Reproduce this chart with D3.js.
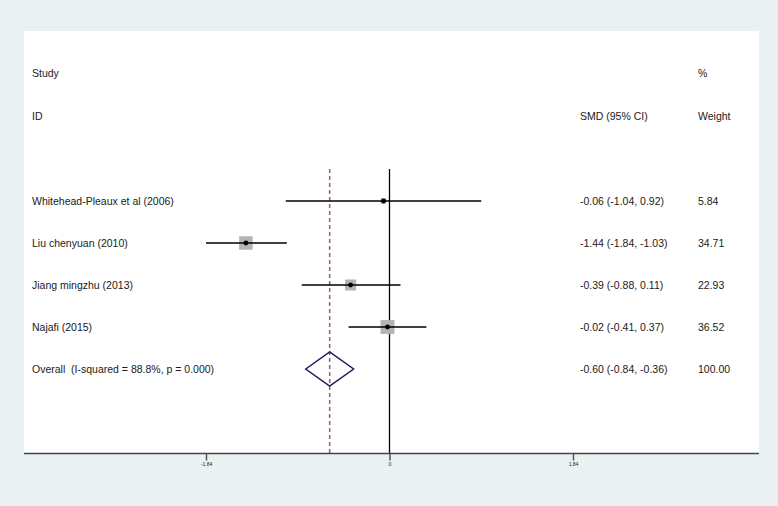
<!DOCTYPE html>
<html><head><meta charset="utf-8">
<script src="https://cdn.jsdelivr.net/npm/d3@7"></script>
<style>html,body{margin:0;padding:0;background:#e9f1f3;}svg{display:block;}text{white-space:pre;}</style>
</head><body>
<svg id="c" width="778" height="506"></svg>
<script>
const studies = ["Whitehead-Pleaux et al (2006)", "Liu chenyuan (2010)", "Jiang mingzhu (2013)", "Najafi (2015)"];
const smd = [-0.06, -1.44, -0.39, -0.02];
const lower = [-1.04, -1.84, -0.88, -0.41];
const upper = [0.92, -1.03, 0.11, 0.37];
const weights = [5.84, 34.71, 22.93, 36.52];
const overallLabel = "Overall  (I-squared = 88.8%, p = 0.000)";
const overall = { est: -0.60, lo: -0.84, hi: -0.36, w: 100.00 };
const tickValues = [-1.84, 0, 1.84];
const tickLabels = ["-1.84", "0", "1.84"];

const svg = d3.select("#c");
const font = "'Liberation Sans', Arial, sans-serif";

// white plot region
svg.append("rect").attr("x", 24).attr("y", 31).attr("width", 735).attr("height", 423).attr("fill", "#ffffff");

const x = d3.scaleLinear().domain([-1.84, 1.84]).range([206, 573]);
const rowNames = studies.concat([overallLabel]);
const y = d3.scalePoint().domain(rowNames).range([201, 369]);

const axisY = 453.5;
const topY = 169;

// zero line
svg.append("line").attr("x1", x(0)).attr("x2", x(0)).attr("y1", topY).attr("y2", axisY)
  .attr("stroke", "#000").attr("stroke-width", 1.3);
// overall dashed line
svg.append("line").attr("x1", x(overall.est)).attr("x2", x(overall.est)).attr("y1", topY).attr("y2", axisY)
  .attr("stroke", "#a0586c").attr("stroke-width", 1.5).attr("stroke-dasharray", "4,3");

// headers
const colStudy = 32, colSMD = 580, colW = 698;
function txt(xp, yp, s) {
  svg.append("text").attr("x", xp).attr("y", yp).attr("font-family", font).attr("font-size", 10.5)
    .attr("fill", "#1a1a1a").text(s);
}
txt(colStudy, 77, "Study");
txt(colStudy, 120, "ID");
txt(colSMD, 120, "SMD (95% CI)");
txt(colW, 77, "%");
txt(colW, 120, "Weight");

const f2 = v => v.toFixed(2);
studies.forEach((s, i) => {
  const yy = y(s);
  txt(colStudy, yy + 4, s);
  txt(colSMD, yy + 4, `${f2(smd[i])} (${f2(lower[i])}, ${f2(upper[i])})`);
  txt(colW, yy + 4, f2(weights[i]));
  const side = 2.3 * Math.sqrt(weights[i]);
  svg.append("rect").attr("x", x(smd[i]) - side / 2).attr("y", yy - side / 2)
    .attr("width", side).attr("height", side).attr("fill", "#b4b4b4");
  svg.append("line").attr("x1", x(lower[i])).attr("x2", x(upper[i])).attr("y1", yy).attr("y2", yy)
    .attr("stroke", "#000").attr("stroke-width", 1.4);
  svg.append("circle").attr("cx", x(smd[i])).attr("cy", yy).attr("r", 2.4).attr("fill", "#000");
});

// overall
const oy = y(overallLabel);
txt(colStudy, oy + 4, overallLabel);
txt(colSMD, oy + 4, `${f2(overall.est)} (${f2(overall.lo)}, ${f2(overall.hi)})`);
txt(colW, oy + 4, f2(overall.w));
const dh = 17;
svg.append("path")
  .attr("d", `M${x(overall.lo)},${oy} L${x(overall.est)},${oy - dh} L${x(overall.hi)},${oy} L${x(overall.est)},${oy + dh} Z`)
  .attr("fill", "none").attr("stroke", "#1c1c5e").attr("stroke-width", 1.5);

// axis
const axis = d3.axisBottom(x).tickValues(tickValues).tickFormat((d, i) => tickLabels[i]).tickSize(7).tickSizeOuter(0);
const g = svg.append("g").attr("transform", `translate(0,${axisY})`).call(axis);
g.select(".domain").remove();
g.selectAll(".tick line").attr("stroke", "#555").attr("stroke-width", 1.5);
g.selectAll(".tick text").attr("font-family", font).attr("font-size", 5).attr("fill", "#222").attr("dy", "0.4em").attr("y", 10);
svg.append("line").attr("x1", 24).attr("x2", 759).attr("y1", axisY).attr("y2", axisY)
  .attr("stroke", "#444").attr("stroke-width", 1.5);
</script>
</body></html>
